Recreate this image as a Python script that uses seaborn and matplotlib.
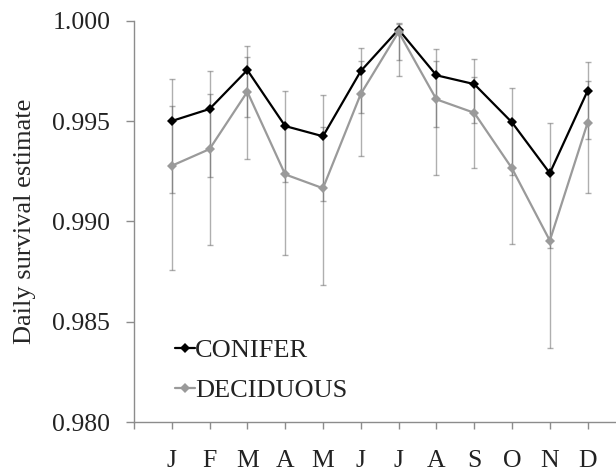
import matplotlib
matplotlib.use("Agg")
import matplotlib.pyplot as plt
import seaborn as sns
import pandas as pd
import numpy as np

months = ["J", "F", "M", "A", "M", "J", "J", "A", "S", "O", "N", "D"]

conifer = [0.99500, 0.99560, 0.99754, 0.99475, 0.99424, 0.99749,
           0.99956, 0.99728, 0.99684, 0.99493, 0.99240, 0.99651]
conifer_hi = [0.99709, 0.99749, 0.99875, 0.99651, 0.99630, 0.99862,
              0.99987, 0.99859, 0.99808, 0.99667, 0.99489, 0.99794]
conifer_lo = [0.99143, 0.99222, 0.99521, 0.99197, 0.99101, 0.99538,
              0.99804, 0.99472, 0.99489, 0.99231, 0.98868, 0.99409]

deciduous = [0.99277, 0.99360, 0.99646, 0.99234, 0.99165, 0.99635,
             0.99944, 0.99608, 0.99541, 0.99264, 0.98904, 0.99492]
deciduous_hi = [0.99576, 0.99633, 0.99818, 0.99465, 0.99472, 0.99801,
                0.99984, 0.99801, 0.99718, 0.99505, 0.99256, 0.99699]
deciduous_lo = [0.98757, 0.98882, 0.99309, 0.98834, 0.98682, 0.99327,
                0.99726, 0.99229, 0.99264, 0.98887, 0.98370, 0.99143]

y_ticks = [0.980, 0.985, 0.990, 0.995, 1.000]
y_ticklabels = ["0.980", "0.985", "0.990", "0.995", "1.000"]

sns.set_style("white")
plt.rcParams["font.family"] = ["Liberation Serif", "DejaVu Serif"]

pos = np.arange(1, len(months) + 1)
df = pd.DataFrame({
    "pos": np.concatenate([pos, pos]),
    "value": conifer + deciduous,
    "forest": ["CONIFER"] * 12 + ["DECIDUOUS"] * 12,
})

fig = plt.figure(figsize=(6.16, 4.73), dpi=100)
ax = fig.add_axes([133.9 / 616, 51 / 473, (616 - 133.9) / 616, (422 - 20.7) / 473])

err_color = "#606060"
for vals, lo, hi in [(conifer, conifer_lo, conifer_hi), (deciduous, deciduous_lo, deciduous_hi)]:
    v = np.array(vals)
    ax.errorbar(pos, v, yerr=[v - np.array(lo), np.array(hi) - v], fmt="none",
                ecolor=err_color, alpha=0.5, elinewidth=1.0, capsize=2, capthick=1.0, zorder=1)

palette = {"CONIFER": "black", "DECIDUOUS": "#9a9a9a"}
for name in ["CONIFER", "DECIDUOUS"]:
    sub = df[df["forest"] == name]
    sns.lineplot(data=sub, x="pos", y="value", ax=ax, color=palette[name],
                 marker="D", markersize=5, markeredgewidth=0, linewidth=1.6,
                 label=name, zorder=3)

ax.set_xlim(0, 12.75)
ax.set_ylim(0.980, 1.000)
ax.set_xticks(np.arange(0, 13))
ax.set_xticklabels([""] + months)
ax.set_yticks(y_ticks)
ax.set_yticklabels(y_ticklabels)
ax.set_xlabel("")
ax.set_ylabel("Daily survival estimate", fontsize=19, labelpad=12)

for side in ["top", "right"]:
    ax.spines[side].set_visible(False)
for side in ["left", "bottom"]:
    ax.spines[side].set_color("#8c8c8c")
    ax.spines[side].set_linewidth(1.0)

ax.tick_params(axis="y", direction="out", length=6, width=1, color="#8c8c8c",
               labelsize=18.5, pad=11, labelcolor="#222222", left=True)
ax.tick_params(axis="x", direction="out", length=5, width=1, color="#8c8c8c",
               labelsize=18.5, pad=15, labelcolor="#222222", bottom=True)

leg = ax.legend(loc="upper left", bbox_to_anchor=(175 / 616, 1 - 339 / 473),
                bbox_transform=fig.transFigure, frameon=False, fontsize=19,
                handlelength=0.75, handletextpad=0.02, labelspacing=0.6,
                borderpad=0, borderaxespad=0)
for t in leg.get_texts():
    t.set_color("#222222")

fig.savefig("out.png", dpi=100)
